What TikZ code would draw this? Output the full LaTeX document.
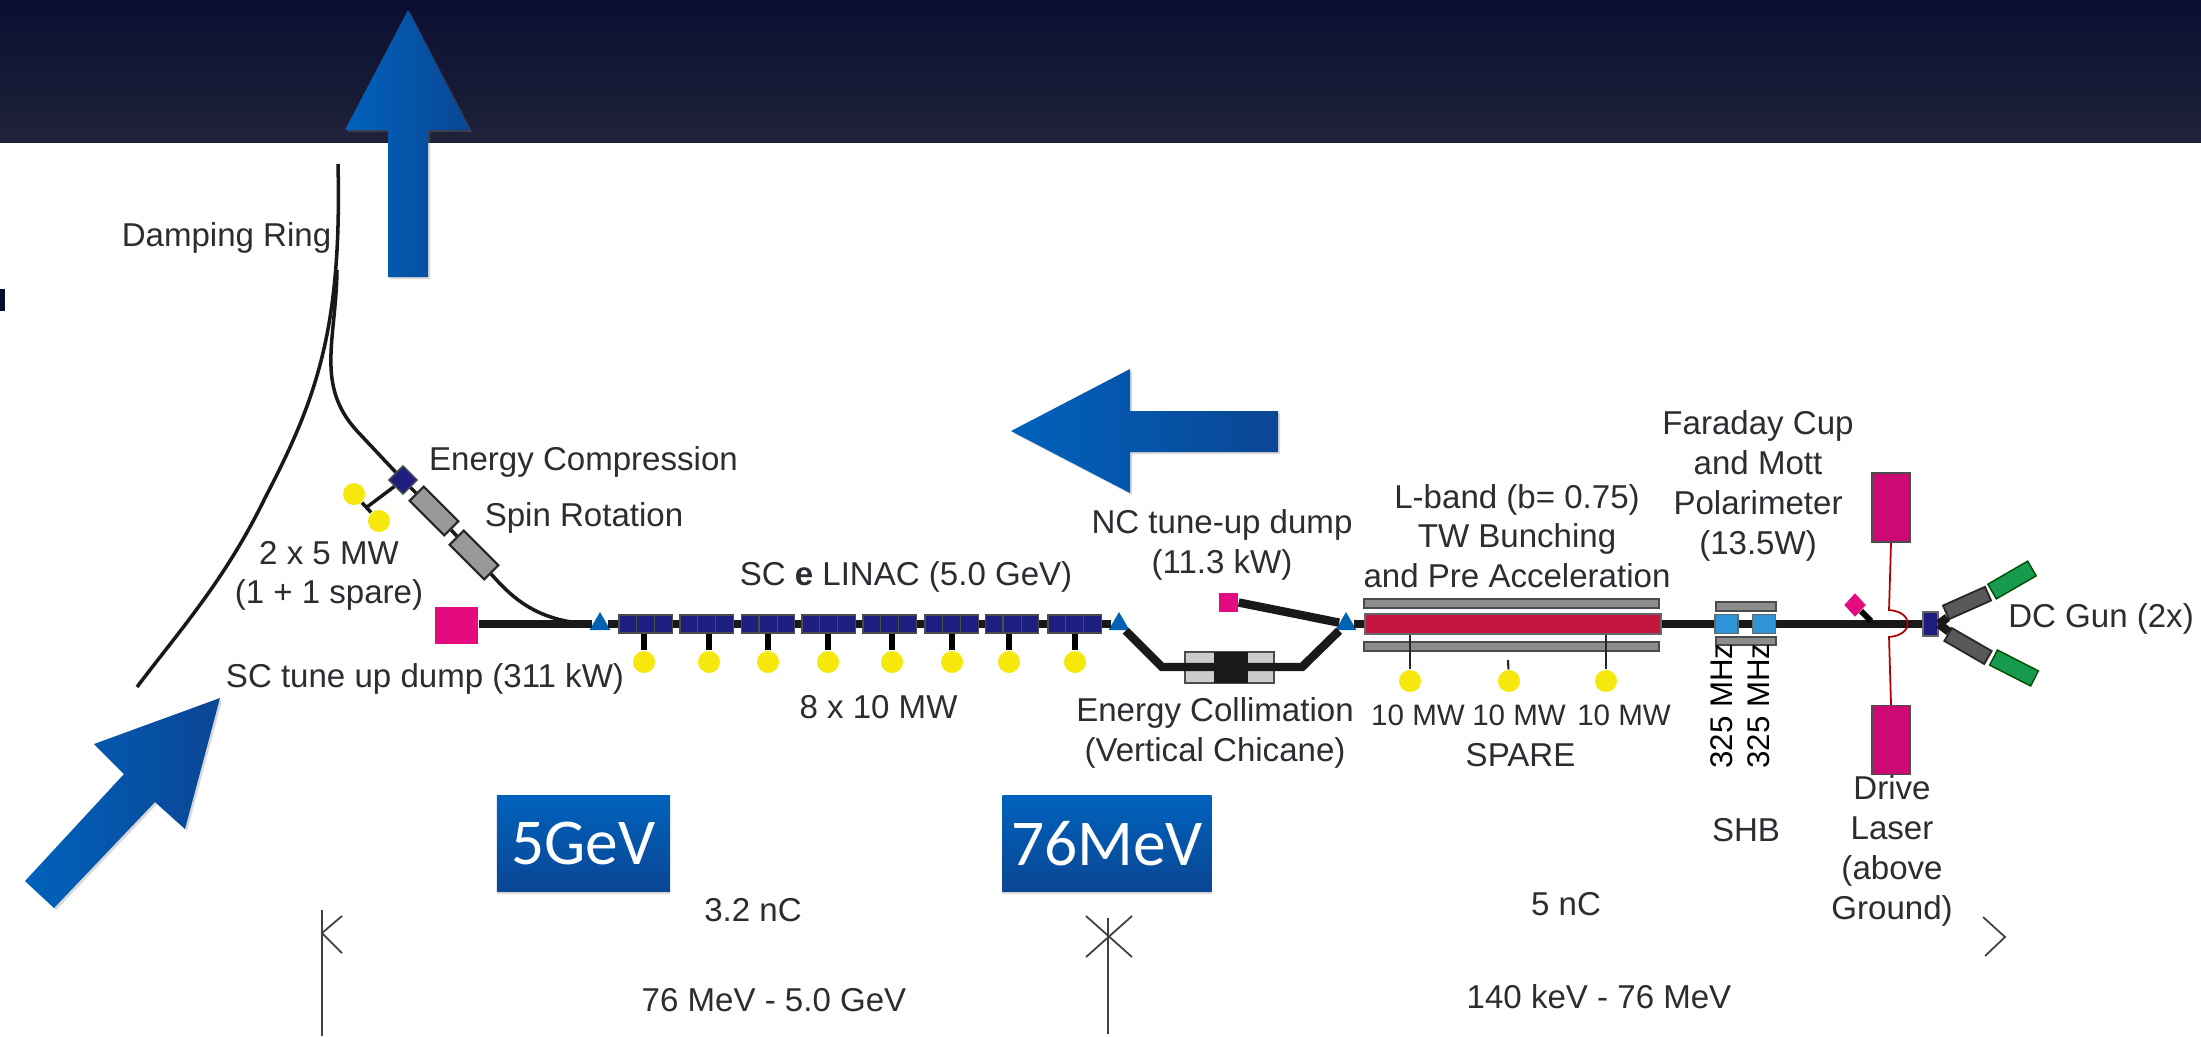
\documentclass[tikz,border=0pt]{standalone}
\usepackage{fontspec}
\setmainfont{Liberation Sans}
\newfontfamily\boxfont{Carlito}
\usepackage{xcolor}
\usetikzlibrary{shapes.geometric, shadows, calc}
\definecolor{navytop}{HTML}{0B0E33}
\definecolor{navybot}{HTML}{1F2238}
\definecolor{hiblue}{HTML}{0062BC}
\definecolor{loblue}{HTML}{0B4694}
\definecolor{modblue}{HTML}{1E1E80}
\definecolor{dumpmag}{HTML}{E40A80}
\definecolor{klyyel}{HTML}{F6E80C}
\definecolor{txtgray}{HTML}{2C2C32}
\definecolor{lbred}{HTML}{C4163E}
\definecolor{gungreen}{HTML}{159A4E}
\begin{document}
\begin{tikzpicture}[x=0.01cm, y=-0.01cm]
\tikzset{
  lab/.style={font=\fontsize{9.4}{11.3}\selectfont,text=txtgray,align=center,inner sep=0pt},
  labs/.style={lab,font=\fontsize{8.4}{11}\selectfont},
  rfq/.style={lab,font=\fontsize{8.9}{11}\selectfont,text=black,rotate=90},
  band/.style={rectangle,minimum width=220.1mm,minimum height=14.2mm,inner sep=0pt,top color=navytop,bottom color=navybot},
  tagbox/.style={rectangle,minimum height=9.6mm,inner sep=0pt,top color=hiblue,bottom color=loblue,text=white,font=\boxfont\fontsize{18.6}{22}\selectfont,drop shadow={opacity=.3,shadow xshift=0pt,shadow yshift=-.6pt}},
  bigarr/.style={left color=hiblue,right color=loblue,drop shadow={opacity=.3,shadow xshift=.6pt,shadow yshift=-.6pt}},
  beam/.style={draw=black!90,line width=2.4pt},
  ring/.style={draw=black!90,line width=1pt},
  stem/.style={draw=black,line width=1.7pt},
  thin stem/.style={draw=black!85,line width=.6pt},
  tick/.style={draw=black!75,line width=.5pt},
  mod/.style={rectangle,draw=black!70,fill=modblue,minimum width=5.3mm,minimum height=1.8mm,inner sep=0pt,line width=.3pt,
    path picture={\draw[black!70,line width=.3pt]
      ($(path picture bounding box.north west)!.33!(path picture bounding box.north east)$) -- ($(path picture bounding box.south west)!.33!(path picture bounding box.south east)$)
      ($(path picture bounding box.north west)!.67!(path picture bounding box.north east)$) -- ($(path picture bounding box.south west)!.67!(path picture bounding box.south east)$);}},
  kly/.style={circle,fill=klyyel,minimum size=2.2mm,inner sep=0pt},
  tri/.style={regular polygon,regular polygon sides=3,fill=blue!45!cyan!70!black,minimum size=2.4mm,inner sep=0pt},
  dump/.style={rectangle,fill=dumpmag,inner sep=0pt},
  laser/.style={rectangle,draw=black!70,fill=dumpmag!90!black,minimum width=3.8mm,minimum height=6.9mm,inner sep=0pt,line width=.4pt},
  rotbox/.style={rectangle,draw=black!85,fill=black!40,minimum width=4.9mm,minimum height=2mm,inner sep=0pt,line width=.6pt,rotate=-45},
  gbar/.style={rectangle,draw=black!70,fill=black!45,inner sep=0pt,line width=.4pt},
  shb/.style={rectangle,draw=black!60,fill=cyan!70!blue!85,minimum width=2.3mm,minimum height=1.9mm,inner sep=0pt},
  coil/.style={rectangle,draw=black!85,fill=black!65,minimum width=4.6mm,minimum height=1.5mm,inner sep=0pt,line width=.5pt},
  gun/.style={rectangle,draw=green!30!black,fill=gungreen,minimum width=4.6mm,minimum height=1.7mm,inner sep=0pt}
}
\useasboundingbox (0,0) rectangle (2201,1036);
\fill[white] (0,0) rectangle (2201,1036);
% ---- slide background
\node[band] (top) at (1100.5,71) {};
\node[rectangle,fill=navytop,minimum width=.5mm,minimum height=2.2mm,inner sep=0pt] (frag) at (2.5,300) {};
% ---- damping ring
\coordinate (rtop) at (338,164);
\coordinate (rmid) at (265,498);
\coordinate (rend) at (137,687);
\coordinate (rsplit) at (337,270);
\coordinate (rbend) at (357,431);
\coordinate (merge) at (592,624);
\draw[ring] (rtop) .. controls (342,330) and (316,400) .. (rmid) .. controls (225,580) and (180,630) .. (rend);
% ---- energy compression and spin rotation
\node[rectangle,draw=black!70,fill=modblue,minimum size=2mm,inner sep=0pt,rotate=45] (ec) at (403,480) {};
\node[rotbox] (sr1) at (434,511) {};
\node[rotbox] (sr2) at (474,555) {};
\node[kly] (ky1) at (354,494) {};
\node[kly] (ky2) at (379,521) {};
\coordinate (kt) at (367,507);
\draw[ring] (rsplit) .. controls (336,340) and (315,385) .. (rbend) -- (ec);
\draw[ring] (ec) -- (sr1); \draw[ring] (sr1) -- (sr2);
\draw[ring] (sr2) .. controls (510,595) and (535,622) .. (merge);
\draw[ring] (ec) -- (kt); \draw[ring] (ky1) -- (ky2);
% ---- SC linac
\node[dump,minimum width=4.3mm,minimum height=3.7mm] (sdump) at (456.5,625.5) {};
\node[tri] (t1) at (600,624) {};
\node[mod] (m1) at (645.5,624) {};
\node[mod] (m2) at (706.5,624) {};
\node[mod] (m3) at (768,624) {};
\node[mod] (m4) at (828.5,624) {};
\node[mod] (m5) at (889.5,624) {};
\node[mod] (m6) at (951.5,624) {};
\node[mod] (m7) at (1012,624) {};
\node[mod] (m8) at (1074.5,624) {};
\node[tri] (t2) at (1119,624) {};
\node[kly] (k1) at (644,662) {};
\node[kly] (k2) at (709,662) {};
\node[kly] (k3) at (768,662) {};
\node[kly] (k4) at (828,662) {};
\node[kly] (k5) at (892,662) {};
\node[kly] (k6) at (952,662) {};
\node[kly] (k7) at (1009,662) {};
\node[kly] (k8) at (1075,662) {};
\draw[beam] (sdump.east |- t1) -- (t1); \draw[beam] (t1) -- (m1);
\draw[beam] (m1) -- (m2); \draw[beam] (m2) -- (m3); \draw[beam] (m3) -- (m4); \draw[beam] (m4) -- (m5);
\draw[beam] (m5) -- (m6); \draw[beam] (m6) -- (m7); \draw[beam] (m7) -- (m8); \draw[beam] (m8) -- (t2);
\draw[stem] (k1 |- m1.south) -- (k1); \draw[stem] (k2 |- m2.south) -- (k2);
\draw[stem] (k3 |- m3.south) -- (k3); \draw[stem] (k4 |- m4.south) -- (k4);
\draw[stem] (k5 |- m5.south) -- (k5); \draw[stem] (k6 |- m6.south) -- (k6);
\draw[stem] (k7 |- m7.south) -- (k7); \draw[stem] (k8 |- m8.south) -- (k8);
% ---- chicane and NC dump
\node[rectangle,draw=black!70,fill=black!20,minimum width=8.9mm,minimum height=3.1mm,inner sep=0pt] (col) at (1229.5,667.5) {};
\node[tri] (t3) at (1346,624) {};
\node[dump,minimum width=1.9mm,minimum height=1.9mm] (ndump) at (1228.5,602.5) {};
\coordinate (c1) at (1162,667);
\coordinate (c2) at (1302,667);
\draw[beam] (t2) -- (c1) -- (c2) -- (t3);
\node[rectangle,fill=black!90,minimum width=3.4mm,minimum height=3.1mm,inner sep=0pt] (colc) at (1231,667.5) {};
\draw[beam] (ndump.east) -- (t3);
% ---- L-band buncher
\node[rectangle,draw=black!60,fill=lbred,minimum width=29.6mm,minimum height=2mm,inner sep=0pt] (lb) at (1513,624) {};
\node[gbar,minimum width=29.5mm,minimum height=.9mm] (lbu) at (1511.5,603.5) {};
\node[gbar,minimum width=29.5mm,minimum height=.9mm] (lbd) at (1511.5,646.5) {};
\node[kly] (k9) at (1410,681) {};
\node[kly] (k10) at (1509,681) {};
\node[kly] (k11) at (1606,681) {};
\coordinate (k10top) at (1508,660);
\draw[beam] (t3) -- (lb.west);
\draw[thin stem] (k9 |- lb.south) -- (k9);
\draw[thin stem] (k10top) -- (k10);
\draw[thin stem] (k11 |- lb.south) -- (k11);
% ---- sub-harmonic bunchers
\node[gbar,minimum width=6mm,minimum height=.9mm] (sbu) at (1746,606.5) {};
\node[gbar,minimum width=6mm,minimum height=.8mm] (sbd) at (1746,641) {};
\node[shb] (s1) at (1726.5,624) {};
\node[shb] (s2) at (1764,624) {};
\draw[beam] (lb.east) -- (s1);
\draw[beam] (s1) -- (s2);
% ---- drive laser and gun
\node[laser] (lsu) at (1891,507.5) {};
\node[laser] (lsd) at (1891,740) {};
\node[rectangle,draw=black!60,fill=modblue,minimum width=1.5mm,minimum height=2.4mm,inner sep=0pt] (gb) at (1930.5,624) {};
\node[diamond,fill=dumpmag,minimum width=2.2mm,minimum height=2.4mm,inner sep=0pt] (fc) at (1855,605) {};
\coordinate (fcb) at (1871,621);
\coordinate (au) at (1889,610);
\coordinate (ad) at (1889,637);
\node[coil,rotate=24] (cu) at (1967,603) {};
\node[coil,rotate=-30] (cd) at (1968,646) {};
\node[gun,rotate=30] (gu) at (2012,580) {};
\node[gun,rotate=-27] (gd) at (2014,668) {};
\draw[beam] (s2) -- (gb.west);
\draw[stem] (fc) -- (fcb);
\draw[beam] (gb.east) -- (cu); \draw[beam] (gb.east) -- (cd);
\draw[draw=red!70!black,line width=.5pt] (lsu.south) -- (au) .. controls (1914,612) and (1914,635) .. (ad) -- (lsd.north);
% ---- labels
\node[lab] (ldr) at (226.5,238) {Damping Ring};
\node[lab] (lec) at (583.5,462) {Energy Compression};
\node[lab] (lsr) at (584,518) {Spin Rotation};
\node[lab] (lrf) at (329,576) {2 x 5 MW\\(1 + 1 spare)};
\node[lab] (ldmp) at (425,679) {SC tune up dump (311 kW)};
\node[lab] (lsc) at (906,577) {SC \textbf{e} LINAC (5.0 GeV)};
\node[lab] (l8x) at (878.5,707) {8 x 10 MW};
\node[lab] (lnc) at (1222,545) {NC tune-up dump\\(11.3 kW)};
\node[lab] (lcol) at (1215,733) {Energy Collimation\\(Vertical Chicane)};
\node[lab] (llb) at (1517,536) {L-band (b= 0.75)\\TW Bunching\\and Pre Acceleration};
\node[lab] (lfc) at (1758,486) {Faraday Cup\\and Mott\\Polarimeter\\(13.5W)};
\node[labs] (lk1) at (1418,715) {10 MW};
\node[labs] (lk2) at (1519,715) {10 MW};
\node[labs] (lk3) at (1624,715) {10 MW};
\node[lab] (lsp) at (1520.5,755) {SPARE};
\node[rfq] (lf1) at (1722,706) {325 MHz};
\node[rfq] (lf2) at (1759,706) {325 MHz};
\node[lab] (lshb) at (1746,830) {SHB};
\node[lab] (ldl) at (1892,851) {Drive\\Laser\\(above\\Ground)};
\node[lab] (lgun) at (2101,619) {DC Gun (2x)};
\node[lab] (lq2) at (753,910) {3.2 nC};
\node[lab] (lq1) at (1566,904) {5 nC};
\node[lab] (len2) at (774,1000) {76 MeV - 5.0 GeV};
\node[lab] (len1) at (1599,997) {140 keV - 76 MeV};
% ---- section ticks
\coordinate (a1) at (322,910); \coordinate (a2) at (322,1036);
\coordinate (a3) at (342,916); \coordinate (a4) at (322,933); \coordinate (a5) at (342,953);
\coordinate (b1) at (1108,918); \coordinate (b2) at (1108,1034);
\coordinate (b3) at (1086,916); \coordinate (b4) at (1132,957);
\coordinate (b5) at (1132,916); \coordinate (b6) at (1086,957);
\coordinate (d1) at (1983,917); \coordinate (d2) at (2005,937); \coordinate (d3) at (1985,956);
\draw[tick] (a1) -- (a2); \draw[tick] (a3) -- (a4) -- (a5);
\draw[tick] (b1) -- (b2); \draw[tick] (b3) -- (b4); \draw[tick] (b5) -- (b6);
\draw[tick] (d1) -- (d2) -- (d3);
% ---- blue overlays
\path[bigarr] (408,10) -- (470,130) -- (428,130) -- (428,277) -- (388,277) -- (388,130) -- (345,130) -- cycle;
\path[bigarr] (1011,431) -- (1130,369) -- (1130,411) -- (1278,411) -- (1278,452) -- (1130,452) -- (1130,493) -- cycle;
\path[bigarr] (220,698) -- (185,829) -- (155,802) -- (54,908) -- (25,881) -- (124,774) -- (94,744) -- cycle;
\node[tagbox,minimum width=17.3mm] (t5g) at (583.5,843.5) {5GeV};
\node[tagbox,minimum width=20.9mm] (t76) at (1107,843.5) {76MeV};
\end{tikzpicture}
\end{document}
